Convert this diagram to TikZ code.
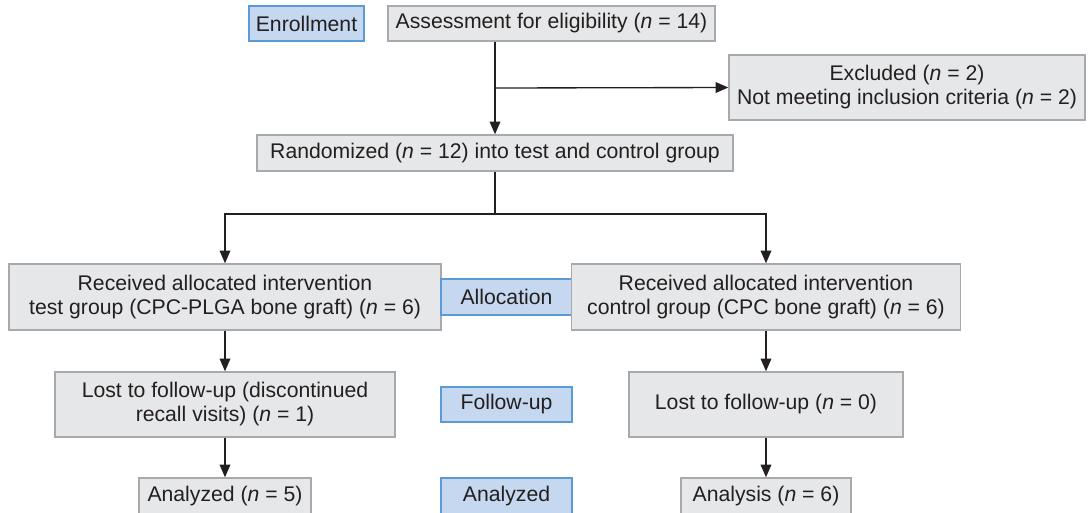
\documentclass[tikz,border=0pt]{standalone}
\usepackage{fontspec}
\setmainfont{Liberation Sans}
\usetikzlibrary{arrows.meta}
\definecolor{boxfill}{HTML}{E6E7E8}
\definecolor{boxline}{HTML}{A7A9AC}
\definecolor{bluefill}{HTML}{C5D8EF}
\definecolor{blueline}{HTML}{5B9BD5}
\definecolor{ink}{HTML}{231F20}
\begin{document}
\begin{tikzpicture}[x=0.75pt,y=-0.75pt,
  every node/.style={font=\fontsize{15.9}{18}\selectfont, text=ink, inner sep=0pt, align=center},
  gbox/.style={draw=boxline, fill=boxfill, line width=1.1pt},
  bbox/.style={draw=blueline, fill=bluefill, line width=1.1pt},
  wh/.style 2 args={minimum width={#1*0.75pt}, minimum height={#2*0.75pt}},
  conn/.style={draw=ink, line width=1pt},
  arr/.style={conn, -{Triangle[length=9.5pt,width=8pt]}}]
\clip (0,0) rectangle (1089,512);
\fill[white] (0,0) rectangle (1089,512);
% top
\node[bbox, wh={115}{35}] (enr) at (306.5,23.5) {Enrollment};
\node[gbox, wh={327}{35}] (assess) at (551.5,23.5) {Assessment for eligibility (\textit{n} = 14)};
\node[gbox, wh={356}{65}] (excl) at (907,87.5) {Excluded (\textit{n} = 2)\\Not meeting inclusion criteria (\textit{n} = 2)};
\node[gbox, wh={476}{36}] (rand) at (495,153) {Randomized (\textit{n} = 12) into test and control group};
% allocation row
\node[gbox, wh={432}{66}] (test) at (225,297) {Received allocated intervention\\test group (CPC-PLGA bone graft) (\textit{n} = 6)};
\node[bbox, wh={131}{36}] (alloc) at (506.5,297) {Allocation};
\node[gbox, wh={389}{66}] (ctrl) at (766,297) {Received allocated intervention\\control group (CPC bone graft) (\textit{n} = 6)};
% follow-up row
\node[gbox, wh={340}{65}] (lostL) at (225,404.5) {Lost to follow-up (discontinued\\recall visits) (\textit{n} = 1)};
\node[bbox, wh={131}{35}] (follow) at (506.5,404.5) {Follow-up};
\node[gbox, wh={274}{65}] (lostR) at (766,404.5) {Lost to follow-up (\textit{n} = 0)};
% analysis row
\node[gbox, wh={172}{36}] (anaL) at (225,496) {Analyzed (\textit{n} = 5)};
\node[bbox, wh={131}{36}] (anaB) at (506.5,496) {Analyzed};
\node[gbox, wh={170}{36}] (anaR) at (766,496) {Analysis (\textit{n} = 6)};
% connectors
\coordinate (j1) at (495,88);
\coordinate (split) at (495,214);
\draw[arr] (assess.south -| rand.north) -- (rand.north);
\draw[arr] (j1) -- (excl.west);
\draw[conn] (rand.south) -- (split);
\draw[arr] (split) -| (test.north);
\draw[arr] (split) -| (ctrl.north);
\draw[arr] (test.south) -- (lostL.north);
\draw[arr] (ctrl.south) -- (lostR.north);
\draw[arr] (lostL.south) -- (anaL.north);
\draw[arr] (lostR.south) -- (anaR.north);
\end{tikzpicture}
\end{document}
